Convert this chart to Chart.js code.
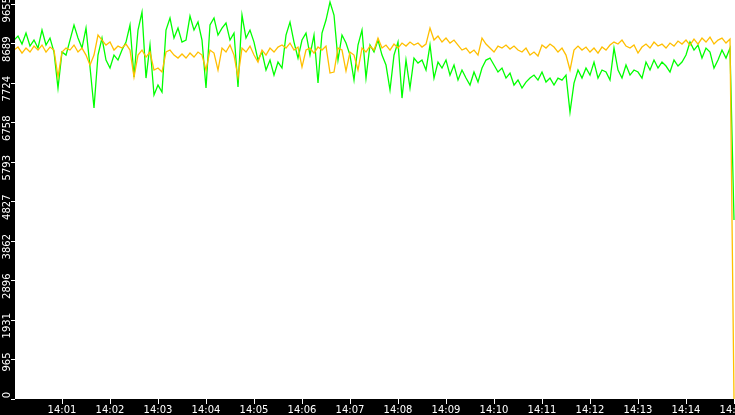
<!DOCTYPE html>
<html>
<head>
<meta charset="utf-8">
<script src="https://cdn.jsdelivr.net/npm/chart.js@4/dist/chart.umd.min.js"></script>
<style>
  html, body { margin: 0; padding: 0; background: #000; }
  canvas { display: block; }
</style>
</head>
<body>
<canvas id="trafficChart" width="735" height="415"></canvas>
<script>
// samples every 5 seconds, starting 14:00:00
const sampleSeconds = 5;
const startHour = 14;

const greenValues = [
  8774, 8872, 8676, 8945, 8627, 8774, 8578, 9018, 8652, 8823,
  8481, 7601, 8481, 8407, 8774, 9141, 8823, 8578, 9067, 8114,
  7112, 8407, 8823, 8285, 8090, 8407, 8285, 8530, 8725, 9141,
  7870, 9018, 9458, 7845, 8652, 7430, 7674, 7503, 9018, 9312,
  8823, 9067, 8725, 8774, 9361, 9018, 9214, 8774, 7601, 9141,
  9312, 8896, 9067, 9190, 8774, 8945, 7625, 9385, 8823, 9018,
  8725, 8285, 8481, 8041, 8285, 7918, 8236, 8090, 8896, 9214,
  8725, 8334, 8774, 8945, 8407, 8896, 7723, 8945, 9263, 9703,
  9385, 8285, 8896, 8701, 8407, 7796, 8652, 9018, 7845, 8652,
  8481, 8774, 8407, 8163, 7552, 8407, 8725, 7356, 8285, 7601,
  8334, 8212, 8285, 8041, 8652, 7845, 8236, 8090, 8285, 7918,
  8163, 7796, 8041, 7845, 7674, 7992, 7747, 8090, 8285, 8334,
  8163, 7992, 8090, 7845, 7967, 7674, 7796, 7601, 7747, 7845,
  7918, 7796, 7992, 7747, 7845, 7674, 7845, 7796, 7918, 7014,
  7723, 8041, 7845, 8090, 7918, 8236, 7845, 8041, 7992, 7796,
  8578, 8041, 7845, 8163, 7918, 8041, 7992, 7845, 8236, 8041,
  8285, 8090, 8236, 8139, 7992, 8285, 8139, 8236, 8407, 8725,
  8530, 8652, 8334, 8578, 8481, 8090, 8285, 8530, 8334, 8578,
  4375
];

const orangeValues = [
  8530, 8603, 8456, 8578, 8481, 8627, 8530, 8652, 8481, 8603,
  8530, 7870, 8481, 8578, 8530, 8652, 8481, 8578, 8407, 8163,
  8407, 8896, 8774, 8652, 8725, 8530, 8627, 8578, 8676, 8530,
  7870, 8407, 8530, 8358, 8481, 8041, 8090, 7992, 8481, 8530,
  8407, 8334, 8432, 8334, 8456, 8358, 8481, 8407, 8041, 8530,
  8456, 8041, 8578, 8481, 8652, 8407, 7870, 8578, 8481, 8627,
  8407, 8236, 8530, 8407, 8578, 8481, 8603, 8652, 8578, 8701,
  8530, 8603, 8114, 8530, 8578, 8456, 8603, 8530, 8627, 7967,
  7992, 8578, 8530, 8016, 8481, 8407, 8041, 8578, 8481, 8627,
  8530, 8823, 8578, 8652, 8530, 8676, 8578, 8701, 8627, 8725,
  8652, 8701, 8603, 8676, 9067, 8774, 8872, 8725, 8823, 8701,
  8774, 8652, 8530, 8578, 8456, 8530, 8407, 8823, 8676, 8578,
  8481, 8627, 8578, 8652, 8554, 8627, 8530, 8481, 8578, 8407,
  8481, 8383, 8652, 8578, 8676, 8603, 8481, 8578, 8407, 8041,
  8530, 8627, 8530, 8603, 8481, 8578, 8456, 8603, 8530, 8652,
  8725, 8676, 8774, 8627, 8578, 8652, 8456, 8603, 8676, 8578,
  8725, 8627, 8676, 8578, 8701, 8627, 8750, 8676, 8774, 8652,
  8798, 8676, 8823, 8725, 8847, 8676, 8774, 8823, 8701, 8798,
  0
];

const yMax = 9753;
const yTickStep = 965.5;
const yTickCount = 10;
const xMin = 1.25;
const xMax = 901.25;
const minuteTicks = [60, 120, 180, 240, 300, 360, 420, 480, 540, 600, 660, 720, 780, 840, 900];

const toPoints = (values) => values.map((v, i) => ({ x: i * sampleSeconds, y: v }));

const plotBackground = {
  id: "plotBackground",
  beforeDraw(chart) {
    const { ctx, chartArea } = chart;
    ctx.save();
    ctx.fillStyle = "#000000";
    ctx.fillRect(0, 0, chart.width, chart.height);
    ctx.fillStyle = "#ffffff";
    ctx.fillRect(chartArea.left, chartArea.top, chartArea.right - chartArea.left, chartArea.bottom - chartArea.top);
    ctx.restore();
  }
};

const tickFont = { family: "DejaVu Sans", size: 10 };

// eslint-disable-next-line no-unused-vars
const trafficChart = new Chart(document.getElementById("trafficChart"), {
  type: "line",
  data: {
    datasets: [
      {
        label: "orange",
        data: toPoints(orangeValues),
        borderColor: "#ffbf00",
        borderWidth: 1.3,
        pointRadius: 0,
        tension: 0
      },
      {
        label: "green",
        data: toPoints(greenValues),
        borderColor: "#00ff00",
        borderWidth: 1.3,
        pointRadius: 0,
        tension: 0
      }
    ]
  },
  options: {
    responsive: false,
    animation: false,
    devicePixelRatio: 1,
    layout: { padding: 0 },
    plugins: {
      legend: { display: false },
      tooltip: { enabled: false }
    },
    scales: {
      x: {
        type: "linear",
        min: xMin,
        max: xMax,
        border: { display: false },
        grid: { drawOnChartArea: false, color: "#ffffff", tickLength: 5, tickWidth: 1 },
        ticks: {
          color: "#ffffff",
          font: tickFont,
          padding: 0,
          autoSkip: false,
          maxRotation: 0,
          callback: (value) => {
            const m = Math.round(value / 60);
            return startHour + ":" + String(m).padStart(2, "0");
          }
        },
        afterBuildTicks: (scale) => {
          scale.ticks = minuteTicks.map((v) => ({ value: v }));
        },
        afterFit: (scale) => {
          scale.height = 16;
          scale.paddingLeft = 0;
          scale.paddingRight = 0;
        }
      },
      y: {
        min: 0,
        max: yMax,
        border: { display: false },
        grid: { drawOnChartArea: false, color: "#ffffff", tickLength: 4, tickWidth: 1 },
        ticks: {
          color: "#ffffff",
          font: tickFont,
          padding: 4,
          minRotation: 90,
          maxRotation: 90,
          labelOffset: -7,
          callback: (value) => String(Math.floor(value))
        },
        afterBuildTicks: (scale) => {
          const ticks = [];
          for (let i = 0; i <= yTickCount; i++) ticks.push({ value: i * yTickStep });
          scale.ticks = ticks;
        },
        afterFit: (scale) => {
          scale.width = 15;
          scale.paddingTop = 0;
          scale.paddingBottom = 0;
        }
      }
    }
  },
  plugins: [plotBackground]
});
</script>
</body>
</html>
